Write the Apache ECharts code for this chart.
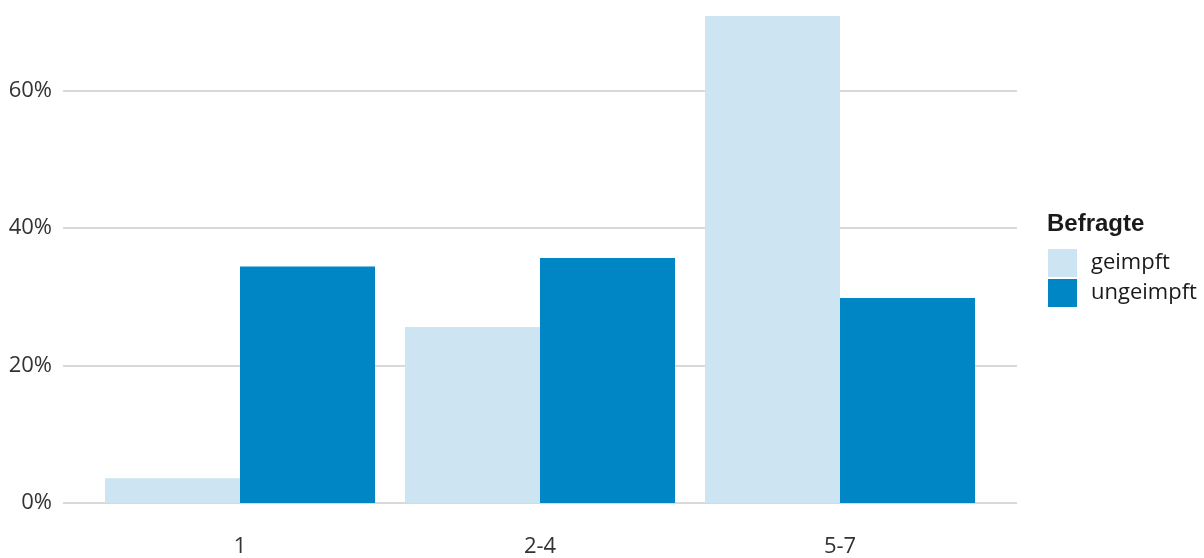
<!DOCTYPE html>
<html>
<head>
<meta charset="utf-8">
<script src="https://cdn.jsdelivr.net/npm/echarts@6/dist/echarts.min.js"></script>
<style>
  html, body { margin: 0; padding: 0; background: #fff; }
  #chart { width: 1204px; height: 558px; }
</style>
</head>
<body>
<div id="chart"></div>
<script>
  // Kategorien und Werte (Anteil in %)
  var categories = ['1', '2-4', '5-7'];
  var geimpft = [3.6, 25.6, 70.8];
  var ungeimpft = [34.4, 35.6, 29.8];
  var yTicks = [0, 20, 40, 60];

  var fontFam = '"Open Sans", "Noto Sans", sans-serif';
  var yMax = 70.8;

  var myChart = echarts.init(document.getElementById('chart'));
  myChart.setOption({
    backgroundColor: '#ffffff',
    animation: false,
    title: {
      text: 'Befragte',
      left: 1047,
      top: 212,
      padding: 0,
      textStyle: { fontFamily: '"Liberation Sans", Arial, sans-serif', fontWeight: 'bold', fontSize: 24, color: '#1a1a1a' }
    },
    legend: {
      orient: 'vertical',
      left: 1048,
      top: 249,
      padding: 0,
      itemWidth: 29,
      itemHeight: 28,
      itemGap: 2,
      icon: 'rect',
      textStyle: { fontFamily: fontFam, fontSize: 22, color: '#1a1a1a', padding: [0, 0, 0, 9] },
      data: ['geimpft', 'ungeimpft']
    },
    grid: [
      // Hintergrund-Gitter (breiter als die Balken)
      { left: 63, right: 187, top: 16, bottom: 55 },
      // Balken
      { left: 90, right: 214, top: 16, bottom: 55 }
    ],
    xAxis: [
      { gridIndex: 0, type: 'value', min: 0, max: 1, show: false },
      {
        gridIndex: 1,
        type: 'category',
        data: categories,
        axisLine: { show: false },
        axisTick: { show: false },
        axisLabel: { fontFamily: fontFam, fontSize: 22, color: '#333', margin: 33 }
      }
    ],
    yAxis: [
      {
        gridIndex: 0,
        type: 'value',
        min: 0,
        max: yMax,
        interval: 20,
        axisLine: { show: false },
        axisTick: { show: false },
        splitLine: { showMaxLine: false, lineStyle: { color: '#cccccc', width: 1.5 } },
        axisLabel: {
          fontFamily: fontFam, fontSize: 22, color: '#333', margin: 11,
          showMaxLabel: false,
          formatter: function (v) { return yTicks.indexOf(v) >= 0 ? v + '%' : ''; }
        }
      },
      {
        gridIndex: 1,
        type: 'value',
        min: 0,
        max: yMax,
        show: false
      }
    ],
    series: [
      {
        name: 'geimpft',
        type: 'bar',
        xAxisIndex: 1,
        yAxisIndex: 1,
        data: geimpft,
        barWidth: 135,
        barGap: '0%',
        itemStyle: { color: '#cde4f2' }
      },
      {
        name: 'ungeimpft',
        type: 'bar',
        xAxisIndex: 1,
        yAxisIndex: 1,
        data: ungeimpft,
        barWidth: 135,
        barGap: '0%',
        itemStyle: { color: '#0085c5' }
      }
    ]
  });
</script>
</body>
</html>
